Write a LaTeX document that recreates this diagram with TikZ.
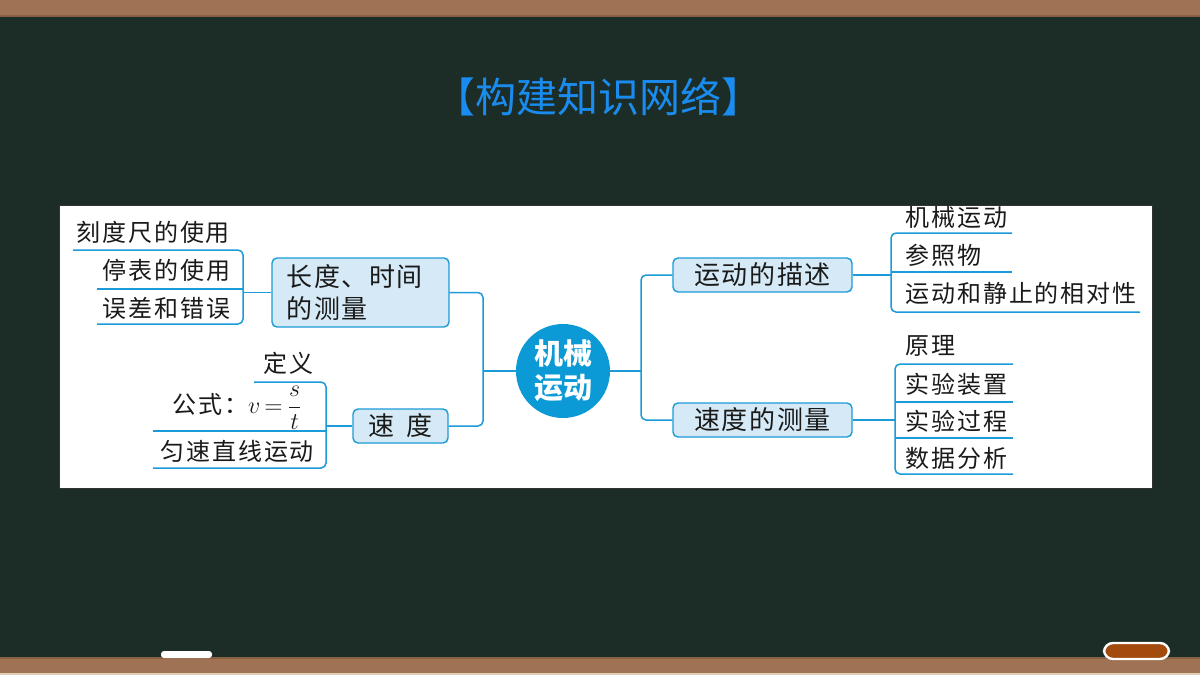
\documentclass[tikz,border=0pt]{standalone}
\usepackage{fontspec}
\setmainfont{Noto Sans CJK SC}
\newfontfamily\leaffont[LetterSpace=8]{Noto Sans CJK SC}
\newfontfamily\boxfont[LetterSpace=6]{Noto Sans CJK SC}
\newfontfamily\titlefont{Noto Sans CJK SC}
\definecolor{wood}{HTML}{9E7252}
\definecolor{wooddark}{HTML}{8A6043}
\definecolor{woodlight}{HTML}{E2CDB8}
\definecolor{board}{HTML}{1C2D27}
\definecolor{lineblue}{HTML}{1B9BD7}
\definecolor{boxfill}{HTML}{D5EAF6}
\definecolor{circblue}{HTML}{0B9AD6}
\definecolor{titleblue}{HTML}{1A8CF0}
\definecolor{ink}{HTML}{1A1A1A}
\definecolor{eraser}{HTML}{A34A0F}
\begin{document}
\begin{tikzpicture}[x=0.5pt,y=-0.5pt,
  leaf/.style={anchor=west, inner sep=0pt, text=ink, font=\leaffont\fontsize{12}{14}\selectfont},
  topic/.style={draw=lineblue, line width=0.7pt, fill=boxfill, rounded corners=2.5pt, text=ink,
     inner sep=0pt, font=\boxfont\fontsize{13}{16}\selectfont},
  conn/.style={draw=lineblue, line width=0.75pt, rounded corners=2.5pt}]
\useasboundingbox (0,0) rectangle (1200,675);
% board and frame
\fill[board] (0,0) rectangle (1200,675);
\fill[wood] (0,0) rectangle (1200,15);
\fill[wooddark] (0,15) rectangle (1200,16.5);
\fill[wood] (0,657) rectangle (1200,675);
\fill[wooddark] (0,657) rectangle (1200,658.5);
\fill[woodlight] (0,672.5) rectangle (1200,675);
% chalk and eraser
\fill[white, rounded corners=1.5pt] (161,651) rectangle (212,658);
\filldraw[fill=eraser, draw=white, line width=1.2pt, rounded corners=4.5pt] (1104,643) rectangle (1169,659);
% title
\node (title) at (598,97) {\titlefont\fontsize{20.5}{24}\selectfont\color{titleblue}【构建知识网络】};
% panel
\filldraw[fill=white, draw=black!80, line width=0.5pt] (59,205) rectangle (1152,488);
% central node
\node[circle, fill=circblue, minimum size=47pt, inner sep=0pt, text=white, align=center,
  font=\bfseries\fontsize{14.5}{17}\selectfont] (core) at (563,371) {机械\\运动};
% topic boxes
\node[topic, minimum width=88.5pt, minimum height=34.5pt, text width=74pt, align=left] (len) at (360.5,292.5) {长度、时间\\的测量};
\node[topic, minimum width=47.5pt, minimum height=17pt] (spd) at (400.5,426) {速\hspace{6pt}度};
\node[topic, minimum width=89.5pt, minimum height=17pt] (desc) at (762.5,275) {运动的描述};
\node[topic, minimum width=89.5pt, minimum height=17pt] (meas) at (762.5,420) {速度的测量};
% central connectors
\coordinate (jl) at (483,371);
\coordinate (jr) at (641,371);
\draw[conn] (len.east) -| (jl) |- (spd.east);
\draw[conn] (jl) -- (core.west);
\draw[conn] (desc.west) -| (jr) |- (meas.west);
\draw[conn] (jr) -- (core.east);
% left group 1
\node[leaf] (l11) at (76,232) {刻度尺的使用};
\node[leaf] (l12) at (102,270) {停表的使用};
\node[leaf] (l13) at (102,308) {误差和错误};
\coordinate (l1a) at (73,250);
\coordinate (l1b) at (97,289);
\coordinate (l1c) at (97,324);
\coordinate (l1j) at (243,292.5);
\draw[conn] (l1a) -| (l1j) |- (l1c);
\draw[conn] (l1b) -- (243,289);
\draw[conn] (l1j) -- (len.west);
% left group 2
\node[leaf] (l21) at (263,363) {定义};
\node[leaf] (l22) at (172,408) {公式：$v\mkern-2mu=\mkern-2mu\displaystyle\frac{s}{t}$};
\node[leaf] (l23) at (160,451) {匀速直线运动};
\coordinate (l2a) at (254,382);
\coordinate (l2b) at (153,431);
\coordinate (l2c) at (153,468);
\coordinate (l2j) at (326,426);
\draw[conn] (l2a) -| (l2j) |- (l2c);
\draw[conn] (l2b) -- (326,431);
\draw[conn] (l2j) -- (spd.west);
% right group 1
\node[leaf] (r11) at (905,217) {机械运动};
\node[leaf] (r12) at (905,255) {参照物};
\node[leaf] (r13) at (905,293) {运动和静止的相对性};
\coordinate (r1a) at (1012,233);
\coordinate (r1b) at (1012,272);
\coordinate (r1c) at (1140,312);
\coordinate (r1j) at (891,275);
\draw[conn] (r1a) -| (r1j) |- (r1c);
\draw[conn] (891,272) -- (r1b);
\draw[conn] (desc.east) -- (r1j);
% right group 2
\node[leaf] (r21) at (905,346) {原理};
\node[leaf] (r22) at (905,384) {实验装置};
\node[leaf] (r23) at (905,421) {实验过程};
\node[leaf] (r24) at (905,458) {数据分析};
\coordinate (r2a) at (1013,364);
\coordinate (r2b) at (1013,402);
\coordinate (r2c) at (1013,438);
\coordinate (r2d) at (1013,474);
\coordinate (r2j) at (895,420);
\draw[conn] (r2a) -| (r2j) |- (r2d);
\draw[conn] (895,402) -- (r2b);
\draw[conn] (895,438) -- (r2c);
\draw[conn] (meas.east) -- (r2j);
\end{tikzpicture}
\end{document}
